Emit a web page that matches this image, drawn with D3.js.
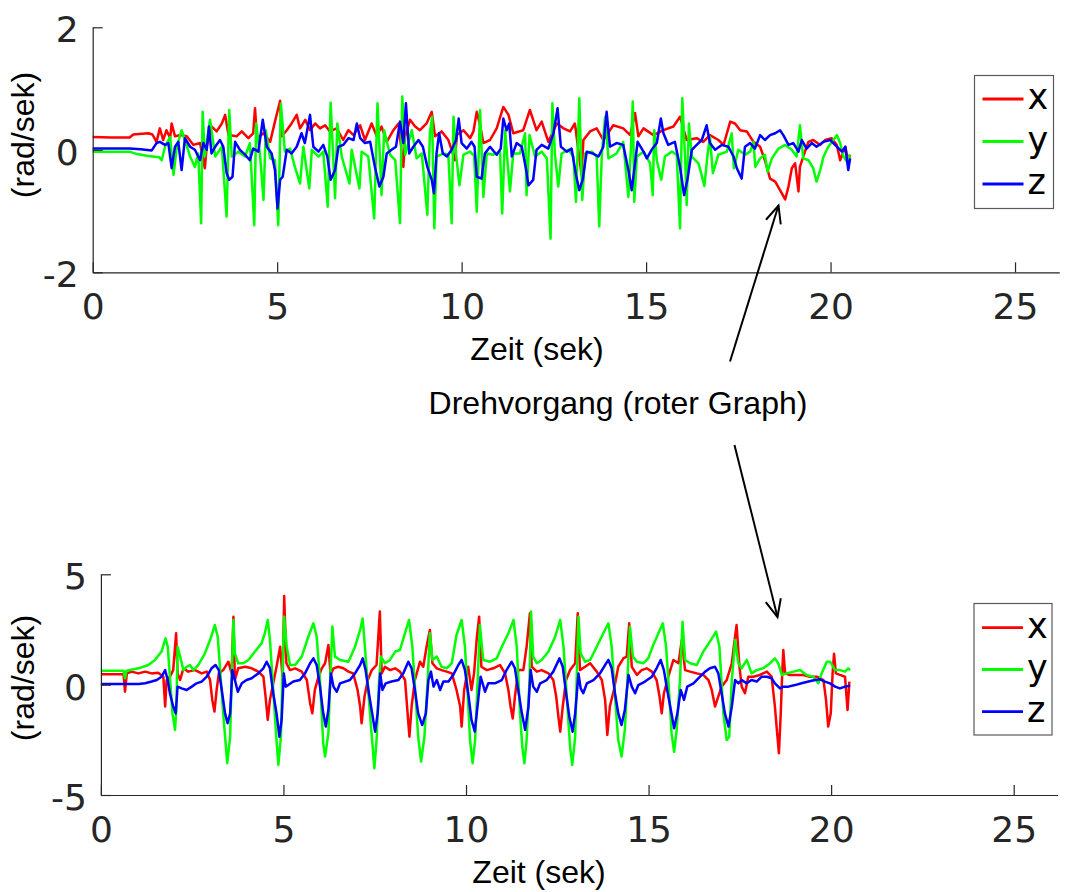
<!DOCTYPE html>
<html>
<head>
<meta charset="utf-8">
<script src="https://cdn.jsdelivr.net/npm/d3@7"></script>
<style>
  html, body { margin: 0; padding: 0; background: #fff; }
  svg { display: block; }
</style>
</head>
<body>
<svg id="chart" width="1076" height="892"></svg>
<script>
// Gyroscope angular rates, two recordings (upper and lower plot)
const seriesNames = ["x", "y", "z"];
const seriesColors = ["#ff0000", "#00ff00", "#0000ff"];
const xTicks = [0, 5, 10, 15, 20, 25];
const topYTicks = [-2, 0, 2];
const bottomYTicks = [-5, 0, 5];
const xAxisLabel = "Zeit (sek)";
const yAxisLabel = "(rad/sek)";
const annotationText = "Drehvorgang (roter Graph)";

// upper recording: [time s, rate rad/s]
const topX = [[0,0.21],[0.5,0.2],[1.0,0.2],[1.1,0.25],[1.5,0.27],[1.62,0.25],[1.73,0.13],[1.82,0.35],[1.91,0.16],[2.0,0.32],[2.1,0.19],[2.14,0.43],[2.23,0.22],[2.37,0.24],[2.55,0.22],[2.73,0.08],[2.91,0.11],[3.04,-0.3],[3.09,0.05],[3.22,0.38],[3.36,0.3],[3.5,0.43],[3.59,0.57],[3.68,0.24],[3.9,0.22],[4.04,0.3],[4.22,0.19],[4.35,0.27],[4.4,0.68],[4.45,0.19],[4.63,0.27],[4.81,0.13],[4.94,0.46],[5.08,0.8],[5.12,0.22],[5.26,0.32],[5.39,0.43],[5.53,0.57],[5.62,0.35],[5.76,0.49],[5.89,0.32],[6.03,0.43],[6.16,0.35],[6.3,0.4],[6.43,0.3],[6.61,0.35],[6.79,0.16],[6.93,0.32],[7.07,0.24],[7.25,0.4],[7.38,0.16],[7.56,0.43],[7.7,0.22],[7.83,0.38],[7.97,0.13],[8.15,0.32],[8.29,0.43],[8.42,-0.28],[8.47,0.22],[8.6,0.49],[8.74,0.38],[8.87,0.32],[9.05,0.43],[9.19,0.62],[9.28,0.22],[9.46,0.3],[9.64,0.16],[9.82,-0.17],[9.87,0.24],[10.05,0.32],[10.23,0.19],[10.32,0.3],[10.41,0.62],[10.5,0.4],[10.59,0.11],[10.77,0.16],[10.95,0.35],[11.13,0.7],[11.27,0.57],[11.4,0.27],[11.67,0.32],[11.85,0.65],[12.03,0.32],[12.17,0.46],[12.35,0.13],[12.58,0.43],[12.76,0.35],[12.94,0.3],[13.07,0.43],[13.25,-0.41],[13.3,0.16],[13.48,0.3],[13.66,0.35],[13.84,0.16],[14.11,0.4],[14.38,0.35],[14.57,0.24],[14.7,0.6],[14.79,0.22],[14.93,0.35],[15.2,0.24],[15.47,0.32],[15.74,0.38],[15.92,0.54],[16.1,0.16],[16.37,0.19],[16.55,0.13],[16.73,0.24],[16.96,0.16],[17.1,0.08],[17.28,0.46],[17.41,0.43],[17.55,0.32],[17.73,0.3],[17.91,0.13],[18.09,0.05],[18.22,-0.17],[18.36,-0.47],[18.5,-0.52],[18.63,-0.66],[18.77,-0.81],[18.86,-0.6],[18.95,-0.3],[19.04,-0.22],[19.13,-0.68],[19.17,-0.28],[19.26,-0.11],[19.4,0.13],[19.53,0.16],[19.72,0.08],[19.85,0.16],[20.03,0.19],[20.17,0.08],[20.26,-0.17],[20.4,0.05],[20.48,-0.19],[20.53,-0.08]];
const topY = [[0,-0.03],[1.0,-0.03],[1.2,-0.07],[1.5,-0.1],[1.8,-0.12],[1.87,-0.17],[1.96,0.05],[2.1,0.21],[2.19,-0.41],[2.28,0.05],[2.41,0.32],[2.5,0.16],[2.64,-0.11],[2.77,-0.28],[2.86,-0.06],[2.94,-1.2],[2.98,0.62],[3.04,-0.11],[3.18,0.49],[3.32,-0.11],[3.5,0.05],[3.63,-1.09],[3.7,0.65],[3.77,-0.11],[3.95,-0.03],[4.13,-0.11],[4.26,0.11],[4.38,-1.23],[4.43,0.43],[4.54,-0.11],[4.63,-0.82],[4.69,0.32],[4.81,-0.14],[4.94,-0.17],[5.03,-1.23],[5.1,0.75],[5.21,-0.03],[5.35,0.02],[5.48,-0.28],[5.62,-0.55],[5.71,0.05],[5.87,-0.63],[5.94,0],[6.12,-0.11],[6.25,-0.03],[6.37,-0.93],[6.45,0.77],[6.57,-0.79],[6.63,0.43],[6.75,-0.11],[6.96,-0.55],[7.02,0],[7.23,-0.63],[7.29,-0.03],[7.47,-0.11],[7.63,-1.12],[7.72,0.76],[7.83,-0.74],[7.9,0.32],[8.06,-0.08],[8.2,-0.17],[8.33,-1.2],[8.39,0.87],[8.47,-0.08],[8.65,0.32],[8.78,-0.14],[8.92,-0.06],[9.07,-1.06],[9.14,0.27],[9.2,0.54],[9.26,-1.28],[9.32,-0.11],[9.51,-0.06],[9.64,-0.08],[9.73,-1.2],[9.78,0.54],[9.85,-0.08],[9.94,-0.58],[10.05,-0.08],[10.23,-0.03],[10.34,-0.1],[10.41,-1.01],[10.5,0.65],[10.59,-0.77],[10.68,-0.06],[10.86,-0.08],[11.04,-0.03],[11.1,-1.04],[11.18,0.32],[11.24,-0.17],[11.31,-0.68],[11.4,-0.06],[11.58,-0.06],[11.72,0.27],[11.76,-0.74],[11.84,0.24],[11.99,-0.11],[12.17,-0.03],[12.31,-0.14],[12.41,-1.45],[12.46,0.76],[12.53,-0.08],[12.62,-0.6],[12.71,-0.06],[12.89,0],[13.03,-0.11],[13.1,-0.85],[13.19,0.84],[13.27,-0.82],[13.35,-0.06],[13.53,-0.03],[13.66,-0.11],[13.73,-1.25],[13.8,-0.08],[13.89,0.54],[13.98,-0.14],[14.2,-0.06],[14.38,0.13],[14.52,-0.77],[14.59,0.05],[14.64,0.79],[14.68,-0.85],[14.75,-0.11],[14.93,-0.03],[15.11,-0.22],[15.18,-0.74],[15.22,0.32],[15.29,-0.17],[15.41,-0.49],[15.51,-0.11],[15.7,-0.03],[15.83,-0.08],[15.92,-1.28],[15.98,0.84],[16.06,-0.17],[16.1,-0.9],[16.16,0.43],[16.24,-0.11],[16.42,-0.22],[16.58,-0.59],[16.66,-0.11],[16.73,0.21],[16.81,-0.38],[16.96,-0.08],[17.19,-0.03],[17.32,0.27],[17.38,-0.3],[17.5,0],[17.68,-0.08],[17.82,-0.03],[17.91,0.13],[17.96,-0.28],[18.09,-0.14],[18.22,-0.08],[18.29,-0.36],[18.41,-0.14],[18.59,0.02],[18.77,0.08],[18.95,0],[19.08,-0.11],[19.17,0.4],[19.26,-0.14],[19.4,-0.17],[19.53,-0.3],[19.62,-0.52],[19.72,-0.33],[19.81,-0.11],[19.94,0.05],[20.08,0.16],[20.17,0.24],[20.26,0.11],[20.35,-0.11],[20.44,-0.19],[20.53,-0.08]];
const topZ = [[0,0.02],[1.0,0.02],[1.3,0.01],[1.6,-0.01],[1.73,0.11],[1.82,0.13],[1.96,0.08],[2.05,0.11],[2.14,-0.3],[2.23,0.05],[2.32,0.13],[2.41,-0.33],[2.5,0.19],[2.64,0.05],[2.77,0],[2.91,-0.17],[3.0,0.11],[3.09,0],[3.15,0.38],[3.22,-0.06],[3.32,0.05],[3.45,0.16],[3.54,0.05],[3.63,-0.38],[3.7,-0.49],[3.79,-0.44],[3.86,0.13],[3.99,0],[4.13,-0.08],[4.26,-0.17],[4.35,0.02],[4.49,-0.03],[4.61,0.49],[4.72,0.05],[4.85,-0.06],[4.94,-0.33],[5.01,-0.96],[5.08,-0.49],[5.15,-0.44],[5.26,0],[5.39,-0.06],[5.53,0.05],[5.66,0.27],[5.75,0.11],[5.89,0.57],[5.98,0.05],[6.12,-0.03],[6.25,0.08],[6.36,-0.11],[6.45,-0.49],[6.57,-0.33],[6.66,0.05],[6.79,0.08],[6.93,0.19],[7.07,0.16],[7.16,0.43],[7.25,0.19],[7.38,0.11],[7.52,0.13],[7.65,-0.28],[7.77,-0.6],[7.88,-0.44],[7.97,-0.06],[8.1,0],[8.22,0.05],[8.33,0.46],[8.42,0.11],[8.49,0.76],[8.58,-0.06],[8.69,0.05],[8.83,0.16],[8.95,0.05],[9.07,-0.28],[9.19,-0.49],[9.25,-0.71],[9.32,-0.06],[9.39,0.27],[9.49,-0.06],[9.6,-0.11],[9.73,0],[9.85,0.16],[9.92,0.51],[10.0,0.11],[10.14,0.02],[10.27,0.13],[10.35,0.05],[10.41,-0.44],[10.54,-0.47],[10.63,-0.06],[10.77,0.05],[10.95,-0.08],[11.06,0.02],[11.13,0.51],[11.22,0.32],[11.29,0.43],[11.36,-0.11],[11.49,0.11],[11.63,0.05],[11.75,-0.33],[11.81,-0.58],[11.94,-0.49],[12.03,0],[12.17,0.08],[12.35,0.02],[12.49,0.27],[12.6,0.68],[12.69,0.05],[12.85,-0.03],[12.98,0.02],[13.1,-0.41],[13.19,-0.66],[13.28,-0.49],[13.39,-0.03],[13.55,-0.06],[13.71,-0.11],[13.84,0.05],[13.93,0.62],[14.02,0.05],[14.2,0.11],[14.38,0.08],[14.52,-0.33],[14.61,-0.66],[14.7,-0.22],[14.77,0.13],[14.93,-0.03],[15.02,-0.14],[15.15,0],[15.29,0.11],[15.4,0.51],[15.47,0.27],[15.6,0.08],[15.78,0.13],[15.92,-0.28],[16.03,-0.74],[16.12,-0.49],[16.24,0],[16.37,0.08],[16.51,0.16],[16.64,0.4],[16.73,0.11],[16.87,0],[17.05,0.08],[17.23,0.05],[17.37,-0.11],[17.46,-0.3],[17.59,-0.47],[17.68,0.05],[17.82,0.11],[17.95,0.02],[18.09,0.24],[18.22,0.16],[18.36,0.24],[18.5,0.27],[18.63,0.32],[18.72,0.24],[18.86,0.08],[18.99,0.11],[19.13,-0.03],[19.22,0.16],[19.35,0.02],[19.49,0.11],[19.62,0.05],[19.81,0.13],[19.99,0.16],[20.17,0.05],[20.31,-0.03],[20.4,0.05],[20.48,-0.33],[20.53,-0.14]];

// lower recording: [time s, rate rad/s]
const bottomX = [[0,0.47],[0.62,0.47],[0.66,-0.32],[0.71,0.51],[0.84,0.59],[1.03,0.51],[1.21,0.59],[1.39,0.51],[1.57,0.54],[1.71,0.36],[1.76,-0.99],[1.8,0.21],[1.89,0.36],[1.98,0.66],[2.06,2.33],[2.1,0.51],[2.17,0.21],[2.26,0.74],[2.39,0.59],[2.58,0.66],[2.76,0.51],[2.9,0.59],[2.99,0.21],[3.05,-0.69],[3.11,-1.22],[3.17,-0.24],[3.23,0.51],[3.35,0.66],[3.49,1.04],[3.58,0.51],[3.63,3.08],[3.67,0.21],[3.76,0.74],[3.95,0.81],[4.13,0.74],[4.31,0.59],[4.45,0.36],[4.51,-0.54],[4.57,-1.6],[4.63,-0.69],[4.72,0.06],[4.81,0.81],[4.91,1.72],[4.98,0.21],[5.02,4.02],[5.08,0.97],[5.18,0.66],[5.32,0.74],[5.5,0.59],[5.64,0.21],[5.73,-0.84],[5.79,-1.3],[5.86,-0.24],[5.96,0.36],[6.05,0.74],[6.14,0.97],[6.23,1.8],[6.29,0.44],[6.37,0.74],[6.5,0.81],[6.64,0.74],[6.78,0.59],[6.91,0.51],[7.03,-0.24],[7.1,-0.99],[7.14,-1.75],[7.22,-0.54],[7.31,0.21],[7.42,0.66],[7.55,0.89],[7.64,3.31],[7.69,0.51],[7.78,0.81],[7.92,0.66],[8.06,0.74],[8.19,0.59],[8.33,0.21],[8.4,-1.3],[8.45,-2.36],[8.51,-0.99],[8.6,0.21],[8.74,1.04],[8.83,0.81],[8.92,1.72],[9.01,2.48],[9.08,0.97],[9.2,0.74],[9.33,0.66],[9.47,0.59],[9.61,0.51],[9.74,-0.24],[9.84,-0.99],[9.88,-1.9],[9.95,-0.24],[10.06,0.81],[10.15,-0.24],[10.22,0.51],[10.3,2.2],[10.36,3.08],[10.42,0.81],[10.57,0.66],[10.75,0.74],[10.93,0.89],[11.07,0.51],[11.16,-0.24],[11.22,-0.99],[11.28,-1.53],[11.34,-0.54],[11.43,0.66],[11.57,0.66],[11.66,1.72],[11.75,3.23],[11.8,0.81],[11.94,0.59],[12.07,0.66],[12.26,0.51],[12.39,0.21],[12.47,-0.54],[12.53,-1.45],[12.58,-2.13],[12.65,-0.99],[12.74,0.21],[12.85,0.66],[12.99,0.97],[13.06,3.23],[13.12,0.66],[13.26,0.81],[13.4,0.97],[13.58,0.59],[13.72,0.21],[13.81,-0.69],[13.87,-2.28],[13.94,-0.99],[14.05,-0.24],[14.17,0.81],[14.31,1.19],[14.4,1.27],[14.47,2.78],[14.54,0.81],[14.68,0.44],[14.81,0.66],[14.95,0.74],[15.09,0.59],[15.22,0.21],[15.3,-0.54],[15.36,-1.3],[15.42,-0.39],[15.54,0.36],[15.68,1.12],[15.82,0.97],[15.91,2.02],[16.0,0.66],[16.14,0.59],[16.32,0.51],[16.5,0.44],[16.64,0.21],[16.73,-0.24],[16.82,-0.99],[16.88,-0.69],[17.0,-0.09],[17.14,0.21],[17.28,0.97],[17.34,1.8],[17.41,2.7],[17.49,0.81],[17.55,-0.09],[17.64,-0.39],[17.73,0.36],[17.87,0.36],[18.05,0.44],[18.24,0.59],[18.37,0.36],[18.46,-0.99],[18.53,-2.36],[18.57,-3.11],[18.62,-1.3],[18.66,0.51],[18.69,1.57],[18.74,0.51],[18.87,0.44],[19.06,0.44],[19.24,0.44],[19.42,0.36],[19.61,0.36],[19.79,0.21],[19.86,-0.69],[19.92,-1.9],[19.99,-1.3],[20.04,0.51],[20.08,1.4],[20.13,0.51],[20.24,0.44],[20.38,0.36],[20.45,-1.15],[20.5,0.14]];
const bottomY = [[0,0.63],[0.62,0.63],[0.66,0.29],[0.7,0.63],[1.03,0.74],[1.3,0.89],[1.48,1.12],[1.66,1.5],[1.77,2.1],[1.83,1.72],[1.89,0.36],[1.96,-1.3],[2.03,-2.05],[2.07,-0.99],[2.1,1.72],[2.17,1.27],[2.26,0.66],[2.35,0.81],[2.44,0.89],[2.53,0.66],[2.67,0.89],[2.85,1.42],[2.99,2.02],[3.12,2.7],[3.2,2.17],[3.26,0.81],[3.35,-1.3],[3.46,-3.56],[3.54,-2.36],[3.58,0.21],[3.63,2.93],[3.67,1.42],[3.76,0.97],[3.9,0.97],[4.04,1.12],[4.22,1.5],[4.4,1.87],[4.49,2.33],[4.57,2.93],[4.63,2.02],[4.72,-0.24],[4.81,-2.51],[4.86,-3.64],[4.93,-2.36],[4.98,0.97],[5.02,3.08],[5.09,1.72],[5.18,0.89],[5.32,0.89],[5.5,1.27],[5.68,2.17],[5.82,2.78],[5.91,2.17],[6.0,0.21],[6.09,-2.66],[6.14,-3.26],[6.23,-2.21],[6.28,0.21],[6.34,2.63],[6.41,1.27],[6.55,1.12],[6.78,1.04],[6.96,1.72],[7.1,2.48],[7.17,3.0],[7.23,1.72],[7.32,-0.24],[7.42,-2.36],[7.49,-3.79],[7.55,-2.51],[7.62,0.21],[7.67,1.27],[7.78,0.97],[7.92,1.12],[8.06,1.5],[8.19,1.57],[8.33,2.33],[8.44,2.93],[8.53,1.72],[8.62,-0.54],[8.69,-2.36],[8.77,-3.49],[8.86,-2.36],[8.95,0.21],[9.01,2.33],[9.08,1.12],[9.2,1.27],[9.33,0.81],[9.47,0.74],[9.61,0.97],[9.74,2.25],[9.88,2.93],[9.97,1.72],[10.05,-0.54],[10.11,-2.51],[10.18,-3.56],[10.25,-2.51],[10.32,0.21],[10.38,2.7],[10.47,1.12],[10.66,1.04],[10.84,1.19],[10.98,1.72],[11.16,2.33],[11.3,2.93],[11.39,1.72],[11.48,-1.3],[11.54,-2.81],[11.6,-3.56],[11.66,-2.51],[11.74,0.21],[11.78,3.31],[11.84,1.27],[11.94,0.97],[12.07,1.12],[12.26,1.5],[12.44,2.17],[12.58,2.93],[12.67,1.72],[12.76,-0.54],[12.85,-2.81],[12.91,-3.64],[12.99,-2.36],[13.03,0.21],[13.08,3.08],[13.14,1.42],[13.26,1.04],[13.4,1.12],[13.58,1.72],[13.76,2.33],[13.9,2.78],[13.99,1.72],[14.08,-0.54],[14.17,-2.51],[14.26,-3.26],[14.35,-2.05],[14.42,0.21],[14.49,2.63],[14.57,1.27],[14.68,1.04],[14.86,0.97],[14.99,1.19],[15.13,1.8],[15.27,2.33],[15.39,2.78],[15.48,1.72],[15.57,-0.54],[15.63,-2.21],[15.7,-3.04],[15.77,-2.05],[15.86,0.21],[15.93,2.85],[16.0,1.12],[16.14,0.97],[16.32,0.89],[16.5,1.5],[16.68,1.95],[16.85,2.4],[16.94,1.72],[17.05,-1.3],[17.14,-2.51],[17.21,-2.36],[17.28,0.21],[17.37,2.02],[17.46,0.97],[17.55,0.74],[17.69,1.12],[17.82,0.51],[17.96,0.66],[18.14,0.74],[18.33,0.97],[18.46,1.19],[18.55,0.97],[18.65,0.44],[18.78,0.51],[18.97,0.59],[19.15,0.66],[19.33,0.44],[19.51,0.36],[19.65,0.06],[19.74,0.51],[19.88,1.04],[19.97,1.04],[20.11,0.66],[20.24,0.66],[20.38,0.59],[20.47,0.74],[20.52,0.66]];
const bottomZ = [[0,0.03],[1.03,0.03],[1.21,0.06],[1.39,0.14],[1.53,0.21],[1.66,0.36],[1.76,0.66],[1.83,0.21],[1.89,-0.39],[1.98,-0.99],[2.05,-1.3],[2.1,-0.09],[2.21,-0.17],[2.35,-0.24],[2.49,-0.09],[2.62,0.06],[2.76,0.14],[2.9,0.36],[3.03,0.74],[3.14,0.89],[3.23,0.66],[3.31,-0.24],[3.4,-1.3],[3.47,-1.75],[3.54,-1.3],[3.6,0.66],[3.67,0.21],[3.75,-0.32],[3.86,0.06],[3.99,0.21],[4.13,0.29],[4.31,0.51],[4.45,0.74],[4.54,1.04],[4.63,0.74],[4.72,-0.39],[4.81,-1.3],[4.89,-2.36],[4.95,-1.6],[5.01,0.51],[5.06,-0.09],[5.13,-0.02],[5.27,0.14],[5.45,0.21],[5.59,0.51],[5.73,0.97],[5.82,1.19],[5.91,0.89],[6.0,-0.09],[6.09,-1.3],[6.16,-1.9],[6.23,-1.15],[6.3,0.51],[6.37,-0.09],[6.46,-0.32],[6.55,0.06],[6.69,0.14],[6.82,0.21],[6.96,0.51],[7.1,0.89],[7.17,1.19],[7.25,0.66],[7.34,-0.39],[7.43,-1.3],[7.51,-2.13],[7.58,-1.3],[7.65,0.51],[7.71,-0.24],[7.8,0.06],[7.96,0.14],[8.15,0.21],[8.28,0.51],[8.42,1.04],[8.51,0.74],[8.6,-0.24],[8.69,-1.3],[8.8,-1.83],[8.9,-1.3],[8.97,0.21],[9.04,0.59],[9.11,-0.09],[9.2,0.21],[9.29,-0.24],[9.38,0.14],[9.52,0.14],[9.65,0.44],[9.79,0.89],[9.88,1.12],[9.97,0.66],[10.06,-0.39],[10.15,-1.6],[10.24,-2.13],[10.32,-0.9],[10.4,0.36],[10.52,-0.32],[10.61,0.06],[10.79,0.06],[10.98,0.21],[11.11,0.66],[11.25,1.04],[11.34,0.74],[11.43,-0.24],[11.53,-1.3],[11.62,-2.05],[11.71,-0.99],[11.77,0.66],[11.84,-0.09],[11.94,-0.32],[12.03,0.06],[12.21,0.21],[12.39,0.59],[12.56,1.19],[12.65,0.81],[12.74,-0.39],[12.83,-1.45],[12.92,-2.13],[12.99,-1.3],[13.08,0.51],[13.14,-0.17],[13.21,-0.39],[13.31,0.06],[13.49,0.21],[13.67,0.51],[13.81,0.89],[13.9,1.12],[13.99,0.74],[14.08,-0.39],[14.17,-1.3],[14.26,-1.83],[14.35,-1.15],[14.45,0.44],[14.54,-0.09],[14.63,-0.39],[14.72,-0.02],[14.9,0.14],[15.09,0.36],[15.22,0.74],[15.33,1.12],[15.42,0.66],[15.51,-0.24],[15.61,-1.15],[15.7,-1.98],[15.79,-1.3],[15.88,-0.24],[15.97,-0.69],[16.06,-0.09],[16.23,0.06],[16.41,0.36],[16.55,0.59],[16.68,0.74],[16.82,0.81],[16.91,0.51],[17.0,-0.39],[17.09,-1.3],[17.19,-1.9],[17.28,-0.99],[17.37,0.21],[17.46,0.06],[17.55,0.21],[17.69,0.06],[17.82,0.21],[17.96,0.14],[18.1,0.36],[18.24,0.36],[18.37,0.29],[18.46,0.06],[18.6,-0.17],[18.69,-0.09],[18.83,-0.09],[19.01,-0.02],[19.19,0.06],[19.38,0.14],[19.56,0.21],[19.7,0.24],[19.83,0.14],[19.97,0.06],[20.11,-0.09],[20.24,-0.17],[20.38,-0.09],[20.52,-0.05]];

const svg = d3.select("#chart");
const tickFont = "'DejaVu Sans', sans-serif";
const labelFont = "'Liberation Sans', Arial, sans-serif";
const axisColor = "#262626";

const panels = [
  { series: [topX, topY, topZ], yTicks: topYTicks, yDomain: [-2, 2],
    left: 92.7, right: 1059.3, top: 27.3, bottom: 272.3,
    xLabelPos: [537, 359.5], yLabelPos: [33.5, 135],
    legend: { x: 974.5, y: 75.5, w: 79, h: 133, rows: [99, 141.5, 184] } },
  { series: [bottomX, bottomY, bottomZ], yTicks: bottomYTicks, yDomain: [-5, 5],
    left: 100.9, right: 1057.5, top: 574.3, bottom: 795,
    xLabelPos: [539, 883], yLabelPos: [34, 678],
    legend: { x: 974, y: 603.5, w: 78, h: 131.5, rows: [627.7, 669.5, 711.7] } }
];

panels.forEach(p => {
  const x = d3.scaleLinear().domain([0, 26.2]).range([p.left, p.right]);
  const y = d3.scaleLinear().domain(p.yDomain).range([p.bottom, p.top]);
  const g = svg.append("g");

  // data lines, z drawn last so it sits on top
  const line = d3.line().x(d => x(d[0])).y(d => y(d[1]));
  p.series.forEach((s, i) => {
    g.append("path").datum(s)
      .attr("d", line)
      .attr("fill", "none")
      .attr("stroke", seriesColors[i])
      .attr("stroke-width", 2.5)
      .attr("stroke-linejoin", "round");
  });

  // axes with inward ticks
  const xAxis = g.append("g").attr("transform", `translate(0,${p.bottom})`)
    .call(d3.axisBottom(x).tickValues(xTicks).tickSizeInner(-10).tickSizeOuter(0).tickPadding(21.5)
      .tickFormat(d3.format("d")));
  const yAxis = g.append("g").attr("transform", `translate(${p.left},0)`)
    .call(d3.axisLeft(y).tickValues(p.yTicks).tickSizeInner(-10).tickSizeOuter(0).tickPadding(14)
      .tickFormat(d => d < 0 ? "-" + Math.abs(d) : String(d)));
  [xAxis, yAxis].forEach(a => {
    a.select(".domain").attr("stroke", axisColor).attr("stroke-width", 1.2);
    a.selectAll(".tick line").attr("stroke", axisColor).attr("stroke-width", 1.2);
    a.selectAll(".tick text")
      .attr("fill", axisColor)
      .style("font-family", tickFont)
      .style("font-size", "36px");
  });
  yAxis.selectAll(".tick text").attr("dy", "0.4em");

  // axis titles
  g.append("text")
    .attr("x", p.xLabelPos[0]).attr("y", p.xLabelPos[1])
    .attr("text-anchor", "middle")
    .style("font-family", labelFont).style("font-size", "32px")
    .attr("fill", "#000")
    .text(xAxisLabel);
  g.append("text")
    .attr("transform", `translate(${p.yLabelPos[0]},${p.yLabelPos[1]}) rotate(-90)`)
    .attr("text-anchor", "middle")
    .style("font-family", labelFont).style("font-size", "32px")
    .attr("fill", "#000")
    .text(yAxisLabel);

  // legend
  const L = p.legend;
  const lg = g.append("g");
  lg.append("rect")
    .attr("x", L.x).attr("y", L.y).attr("width", L.w).attr("height", L.h)
    .attr("fill", "#fff").attr("stroke", "#5a5a5a").attr("stroke-width", 1.2);
  seriesNames.forEach((name, i) => {
    lg.append("line")
      .attr("x1", L.x + 8).attr("x2", L.x + 49)
      .attr("y1", L.rows[i]).attr("y2", L.rows[i])
      .attr("stroke", seriesColors[i]).attr("stroke-width", 2.8);
    lg.append("text")
      .attr("x", L.x + 53).attr("y", L.rows[i] + 10)
      .style("font-family", tickFont).style("font-size", "35px")
      .attr("fill", "#000")
      .text(name);
  });
});

// annotation with arrows to the turning manoeuvre
svg.append("text")
  .attr("x", 618).attr("y", 414)
  .attr("text-anchor", "middle")
  .style("font-family", labelFont).style("font-size", "32px")
  .attr("fill", "#000")
  .text(annotationText);

function arrow(x1, y1, x2, y2) {
  const ang = Math.atan2(y2 - y1, x2 - x1);
  const len = 19, spread = 0.42;
  svg.append("line")
    .attr("x1", x1).attr("y1", y1).attr("x2", x2).attr("y2", y2)
    .attr("stroke", "#000").attr("stroke-width", 2);
  const head = [
    [x2 - len * Math.cos(ang - spread), y2 - len * Math.sin(ang - spread)],
    [x2, y2],
    [x2 - len * Math.cos(ang + spread), y2 - len * Math.sin(ang + spread)]
  ];
  svg.append("path")
    .attr("d", d3.line()(head))
    .attr("fill", "none").attr("stroke", "#000").attr("stroke-width", 2);
}
arrow(730, 361.5, 778.5, 205.5);
arrow(734.5, 445, 777.5, 617);
</script>
</body>
</html>
